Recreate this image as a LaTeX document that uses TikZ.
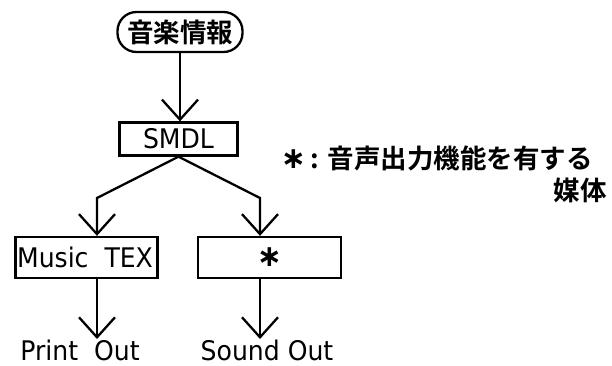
\documentclass[tikz,border=0pt]{standalone}
\usepackage{fontspec}
\setmainfont{DejaVu Sans}[FakeStretch=0.93]
\newfontfamily\jpfont{Noto Sans CJK JP Bold}
\newfontfamily\astfont{DejaVu Sans Bold}
\usetikzlibrary{arrows.meta}
\begin{document}
\begin{tikzpicture}[x=1pt,y=-1pt,
  box/.style={draw,line width=2.3pt,inner sep=0pt,font=\fontsize{27}{27}\selectfont},
  conn/.style={line width=2.3pt,-{Straight Barb[length=20pt,width=36pt,line width=2.3pt]}},
  lbl/.style={inner sep=0pt,font=\fontsize{27}{27}\selectfont},
  jp/.style={inner sep=0pt,font=\fontsize{26.5}{26.5}\jpfont}]
\useasboundingbox (0,0) rectangle (612,365);
\node[box,rounded corners=19pt,minimum width=125pt,minimum height=40pt,font=\fontsize{26.5}{26.5}\jpfont] (top) at (180,32) {音楽情報};
\node[box,minimum width=118pt,minimum height=33pt] (smdl) at (178.5,139) {SMDL};
\node[box,minimum width=142pt,minimum height=41pt] (mt) at (86.5,257.5) {\hspace*{-3pt}Music\ \ TEX};
\node[box,minimum width=143pt,minimum height=41pt,font=\fontsize{30}{30}\astfont] (st) at (269.5,257.5) {∗};
\coordinate (bl) at (97,198);
\coordinate (br) at (260,198);
\node[lbl,anchor=base] (po) at (80,360) {Print\ \ Out};
\node[lbl,anchor=base] (so) at (267,360) {Sound Out};
\node[jp,anchor=east] (note1) at (593,158) {{\fontsize{30}{30}\astfont ∗}\,:\,\,音声出力機能を有する};
\node[jp,anchor=east] (note2) at (607,190) {媒体};
\draw[conn] (top) -- (top |- smdl.north);
\draw[conn] (smdl.south) -- (bl) -- (bl |- mt.north);
\draw[conn] (smdl.south) -- (br) -- (br |- st.north);
\draw[conn] (bl |- mt.south) -- (97,339);
\draw[conn] (br |- st.south) -- (260,339);
\end{tikzpicture}
\end{document}
